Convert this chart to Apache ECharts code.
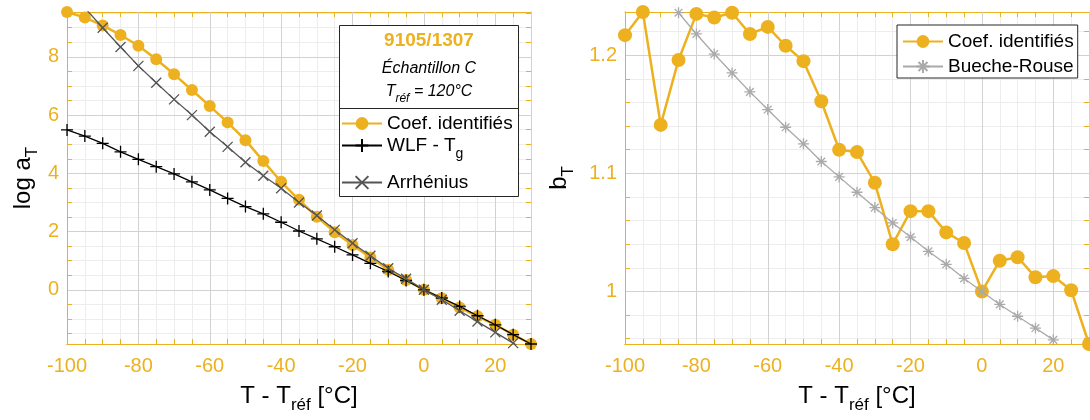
<!DOCTYPE html>
<html>
<head>
<meta charset="utf-8">
<title>Coefficients de décalage - 9105/1307</title>
<script src="https://cdn.jsdelivr.net/npm/echarts@6/dist/echarts.min.js"></script>
<style>
  html, body { margin: 0; padding: 0; background: #fff; }
  #main { width: 1090px; height: 420px; }
</style>
</head>
<body>
<div id="main"></div>
<script>
// temperatures T - Tref
var temps = [-100, -95, -90, -85, -80, -75, -70, -65, -60, -55, -50, -45, -40, -35, -30, -25, -20, -15, -10, -5, 0, 5, 10, 15, 20, 25, 30];
// log aT
var logaCoef = [9.54, 9.35, 9.08, 8.75, 8.38, 7.92, 7.40, 6.86, 6.31, 5.75, 5.14, 4.42, 3.71, 3.09, 2.51, 1.98, 1.54, 1.11, 0.69, 0.34, 0, -0.29, -0.61, -0.91, -1.20, -1.54, -1.86];
var logaWLF = [5.49, 5.28, 5.03, 4.74, 4.48, 4.23, 3.98, 3.71, 3.43, 3.14, 2.86, 2.61, 2.32, 2.02, 1.75, 1.48, 1.20, 0.91, 0.63, 0.32, 0, -0.28, -0.57, -0.89, -1.20, -1.54, -1.86];
var logaArr = [10.38, 9.68, 9.00, 8.34, 7.69, 7.11, 6.54, 6.00, 5.43, 4.91, 4.38, 3.92, 3.49, 3.00, 2.55, 2.06, 1.60, 1.17, 0.74, 0.38, 0, -0.34, -0.72, -1.09, -1.46, -1.83, -2.20];
// bT
var bCoef = [1.217, 1.2366, 1.141, 1.196, 1.235, 1.232, 1.236, 1.218, 1.224, 1.208, 1.195, 1.161, 1.120, 1.118, 1.092, 1.040, 1.068, 1.068, 1.050, 1.041, 1.000, 1.026, 1.029, 1.012, 1.013, 1.001, 0.9555];
var tempsBR = [-85, -80, -75, -70, -65, -60, -55, -50, -45, -40, -35, -30, -25, -20, -15, -10, -5, 0, 5, 10, 15, 20];
var bBR = [1.236, 1.218, 1.201, 1.185, 1.169, 1.154, 1.139, 1.125, 1.110, 1.097, 1.084, 1.071, 1.058, 1.046, 1.034, 1.023, 1.011, 1.000, 0.989, 0.979, 0.969, 0.959];

// ticks
var yTicksLeft = [0, 2, 4, 6, 8];
var yTicksRight = [1, 1.1, 1.2];

var ORANGE = '#EDB120';
var MAJOR = '#d2d2d2';
var MINOR = '#ededed';
var FONT = '"Liberation Sans", Arial, Helvetica, sans-serif';

function steps(from, to, step) {
  var out = [];
  for (var v = from; v <= to + 1e-9; v += step) out.push(Math.round(v * 1000) / 1000);
  return out;
}
var yMinorLeft = steps(-1.5, 9.5, 0.5);
var yMinorRight = steps(0.96, 1.22, 0.02);

function pairs(xs, ys) {
  return xs.map(function (x, i) { return [x, ys[i]]; });
}

var nameRich = {
  a: { fontSize: 24, lineHeight: 36, fontFamily: FONT, color: '#000' },
  s: { fontSize: 17, lineHeight: 17, verticalAlign: 'bottom', fontFamily: FONT, color: '#000' }
};

function xAxes(gi) {
  return [
    {
      gridIndex: gi, type: 'value', min: -100, max: 30, interval: 20, position: 'bottom', z: 1,
      axisLine: { onZero: false, lineStyle: { color: ORANGE, width: 1 } },
      axisTick: { show: false },
      axisLabel: { color: ORANGE, fontSize: 20, fontFamily: FONT, margin: 12, showMaxLabel: false },
      splitLine: { show: true, lineStyle: { color: MAJOR, width: 1 } },
      name: '{a|T - T}{s|réf}{a| [°C]}', nameLocation: 'middle', nameGap: 34,
      nameTextStyle: { rich: nameRich }
    },
    {
      gridIndex: gi, type: 'value', min: -100, max: 30, interval: 5, position: 'bottom', z: 0,
      axisLine: { onZero: false, lineStyle: { color: ORANGE } },
      axisTick: { show: true, inside: true, length: 5, lineStyle: { color: ORANGE } },
      axisLabel: { show: false },
      splitLine: { show: true, lineStyle: { color: MINOR, width: 1 } }
    },
    {
      gridIndex: gi, type: 'value', min: -100, max: 30, interval: 5, position: 'top', z: 0,
      axisLine: { onZero: false, lineStyle: { color: ORANGE } },
      axisTick: { show: true, inside: true, length: 5, lineStyle: { color: ORANGE } },
      axisLabel: { show: false },
      splitLine: { show: false }
    }
  ];
}

function yAxes(gi, min, max, major, minor, name, gap) {
  return [
    {
      gridIndex: gi, type: 'value', min: min, max: max, position: 'left', z: 1,
      axisLine: { onZero: false, lineStyle: { color: ORANGE } },
      axisTick: { show: false, customValues: major },
      axisLabel: { color: ORANGE, fontSize: 20, fontFamily: FONT, margin: 8, customValues: major },
      splitLine: { show: true, lineStyle: { color: MAJOR, width: 1 } },
      name: name, nameLocation: 'middle', nameGap: gap,
      nameTextStyle: { rich: nameRich }
    },
    {
      gridIndex: gi, type: 'value', min: min, max: max, position: 'left', z: 0,
      axisLine: { onZero: false, lineStyle: { color: ORANGE } },
      axisTick: { show: true, inside: true, length: 5, customValues: minor, lineStyle: { color: ORANGE } },
      axisLabel: { show: false, customValues: minor },
      splitLine: { show: true, lineStyle: { color: MINOR, width: 1 } }
    },
    {
      gridIndex: gi, type: 'value', min: min, max: max, position: 'right', z: 0,
      axisLine: { onZero: false, lineStyle: { color: ORANGE } },
      axisTick: { show: true, inside: true, length: 5, customValues: minor, lineStyle: { color: ORANGE } },
      axisLabel: { show: false, customValues: minor },
      splitLine: { show: false }
    }
  ];
}

var PLUS = 'path://M5,0L5,10M0,5L10,5';
var CROSS = 'path://M0,0L10,10M10,0L0,10';
var STAR = 'path://M5,0L5,10M0,5L10,5M1.5,1.5L8.5,8.5M8.5,1.5L1.5,8.5';

var legendText = {
  fontSize: 19, fontFamily: FONT, color: '#000',
  rich: {
    n: { fontSize: 19, lineHeight: 22, fontFamily: FONT, color: '#000' },
    m: { fontSize: 19, lineHeight: 32, fontFamily: FONT, color: '#000' },
    s: { fontSize: 14, lineHeight: 14, verticalAlign: 'bottom', fontFamily: FONT, color: '#000' }
  }
};
function legendFmt(name) {
  if (name === 'WLF - Tg') return '{m|WLF - T}{s|g}';
  return '{n|' + name + '}';
}
function oneLegend(name, top) {
  return {
    data: [name], orient: 'vertical', left: 341, top: top, padding: 0, z: 60,
    itemWidth: 40, itemHeight: 16, selectedMode: false,
    textStyle: legendText, formatter: legendFmt
  };
}

var option = {
  animation: false,
  backgroundColor: '#fff',
  grid: [
    { left: 67, top: 12, width: 464, height: 332 },
    { left: 625, top: 12, width: 464, height: 332 }
  ],
  xAxis: xAxes(0).concat(xAxes(1)),
  yAxis: yAxes(0, -1.86, 9.54, yTicksLeft, yMinorLeft, '{a|log a}{s|T}', 26)
    .concat(yAxes(1, 0.9555, 1.2366, yTicksRight, yMinorRight, '{a|b}{s|T}', 48)),
  legend: [
    oneLegend('Coef. identifiés', 114),
    oneLegend('WLF - Tg', 136),
    oneLegend('Arrhénius', 173),
    {
      data: ['Coef. identifiés', 'Bueche-Rouse'], orient: 'vertical', left: 897, top: 25, z: 60,
      padding: [7, 4, 2, 5], itemGap: 6, itemWidth: 40, itemHeight: 16, selectedMode: false,
      borderColor: '#262626', borderWidth: 1, backgroundColor: '#fff',
      textStyle: legendText, formatter: legendFmt
    }
  ],
  graphic: [
    {
      type: 'rect', z: 50, shape: { x: 339.5, y: 25.5, width: 179, height: 171 },
      style: { fill: '#fff', stroke: '#262626', lineWidth: 1 }
    },
    {
      type: 'line', z: 51, shape: { x1: 339.5, y1: 108.5, x2: 518.5, y2: 108.5 },
      style: { stroke: '#262626', lineWidth: 1 }
    },
    {
      type: 'text', z: 51, x: 429, y: 41,
      style: { text: '9105/1307', fill: ORANGE, font: 'bold 19px ' + FONT, align: 'center', verticalAlign: 'middle' }
    },
    {
      type: 'text', z: 51, x: 429, y: 69,
      style: { text: 'Échantillon C', fill: '#000', font: 'italic 16px ' + FONT, align: 'center', verticalAlign: 'middle' }
    },
    {
      type: 'text', z: 51, x: 429, y: 92,
      style: {
        text: '{a|T}{s|réf}{a| = 120°C}', align: 'center', verticalAlign: 'middle',
        rich: {
          a: { font: 'italic 16px ' + FONT, fill: '#000', lineHeight: 26 },
          s: { font: 'italic 12px ' + FONT, fill: '#000', lineHeight: 12, verticalAlign: 'bottom' }
        }
      }
    }
  ],
  series: [
    {
      name: 'Coef. identifiés', type: 'line', xAxisIndex: 0, yAxisIndex: 0, z: 2,
      data: pairs(temps, logaCoef), symbol: 'circle', symbolSize: 12,
      itemStyle: { color: ORANGE }, lineStyle: { color: ORANGE, width: 2.5 }
    },
    {
      name: 'WLF - Tg', type: 'line', xAxisIndex: 0, yAxisIndex: 0, z: 3,
      data: pairs(temps, logaWLF), symbol: PLUS, symbolSize: 12,
      itemStyle: { color: '#000', borderColor: '#000', borderWidth: 1.3 },
      lineStyle: { color: '#000', width: 1.3 }
    },
    {
      name: 'Arrhénius', type: 'line', xAxisIndex: 0, yAxisIndex: 0, z: 4,
      data: pairs(temps, logaArr), symbol: CROSS, symbolSize: 10,
      itemStyle: { color: '#555', borderColor: '#555', borderWidth: 1.3 },
      lineStyle: { color: '#555', width: 1.3 }
    },
    {
      name: 'Coef. identifiés', type: 'line', xAxisIndex: 3, yAxisIndex: 3, z: 2,
      data: pairs(temps, bCoef), symbol: 'circle', symbolSize: 14,
      itemStyle: { color: ORANGE }, lineStyle: { color: ORANGE, width: 2.5 }
    },
    {
      name: 'Bueche-Rouse', type: 'line', xAxisIndex: 3, yAxisIndex: 3, z: 3,
      data: pairs(tempsBR, bBR), symbol: STAR, symbolSize: 11,
      itemStyle: { color: '#aaa', borderColor: '#aaa', borderWidth: 1.3 },
      lineStyle: { color: '#aaa', width: 1.3 }
    }
  ]
};

var chart = echarts.init(document.getElementById('main'));
chart.setOption(option);
</script>
</body>
</html>
